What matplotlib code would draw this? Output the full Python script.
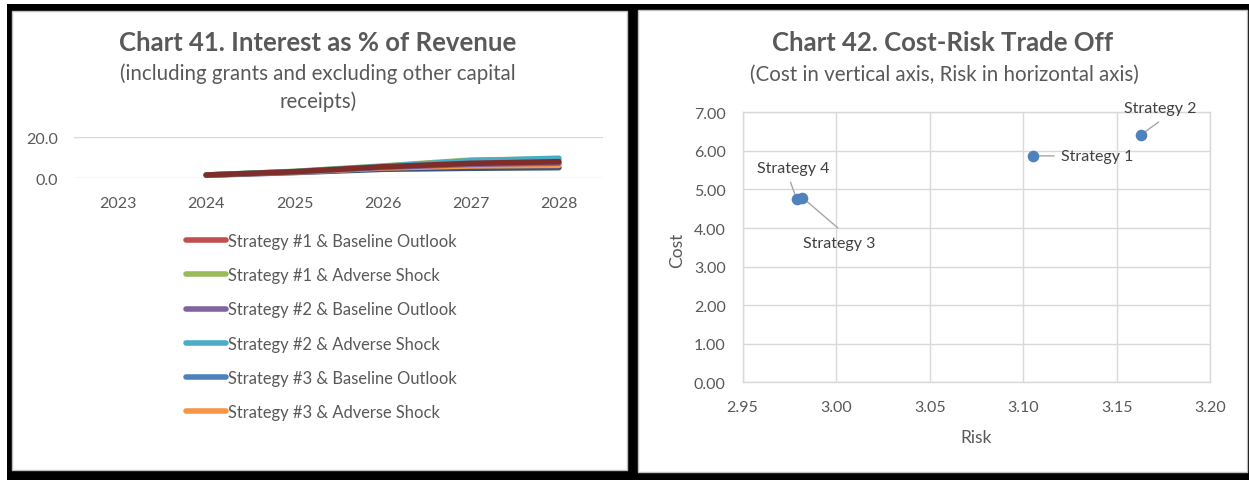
import matplotlib
matplotlib.use("Agg")
import matplotlib.pyplot as plt
from matplotlib.patches import Rectangle
from matplotlib.lines import Line2D

plt.rcParams['font.family'] = ['Lato', 'DejaVu Sans']

# ---- Chart 41 data -------------------------------------------------------
years = ["2023", "2024", "2025", "2026", "2027", "2028"]
series_names = [
    "Strategy #1 & Baseline Outlook",
    "Strategy #1 & Adverse Shock",
    "Strategy #2 & Baseline Outlook",
    "Strategy #2 & Adverse Shock",
    "Strategy #3 & Baseline Outlook",
    "Strategy #3 & Adverse Shock",
]
s1_baseline = [None, 1.6, 3.2, 5.6, 7.3, 8.1]
s1_adverse = [None, 1.6, 3.4, 6.0, 8.9, 9.4]
s2_baseline = [None, 1.6, 3.1, 5.3, 6.8, 7.4]
s2_adverse = [None, 1.6, 3.3, 5.8, 8.6, 9.8]
s3_baseline = [None, 1.5, 2.8, 4.4, 4.9, 5.2]
s3_adverse = [None, 1.6, 3.0, 5.0, 6.0, 6.3]

# ---- Chart 42 data -------------------------------------------------------
strategies = ["Strategy 1", "Strategy 2", "Strategy 3", "Strategy 4"]
risk = [3.105, 3.163, 2.982, 2.979]
cost = [5.87, 6.42, 4.79, 4.74]

W, H = 1249, 481
fig = plt.figure(figsize=(W / 100, H / 100), dpi=100, facecolor="white")


def fx(x):
    return x / W


def fy(y):
    return 1 - y / H


# Black frame and the two white chart panels (behind the axes)
fig.patches.append(Rectangle((fx(7), 0), fx(W - 7), (H - 5) / H,
                             transform=fig.transFigure, facecolor="black",
                             edgecolor="none", zorder=-3))
fig.patches.append(Rectangle((fx(12), fy(471)), fx(627 - 12), (471 - 12) / H,
                             transform=fig.transFigure, facecolor="white",
                             edgecolor="#BFBFBF", lw=1, zorder=-2))
fig.patches.append(Rectangle((fx(638), fy(473)), fx(1247 - 638), (473 - 11) / H,
                             transform=fig.transFigure, facecolor="white",
                             edgecolor="#BFBFBF", lw=1, zorder=-2))

TXT = "#595959"
GRID = "#D9D9D9"
TITLE_SIZE = 18.5
SUB_SIZE = 14.8

# ---- Chart 41 ------------------------------------------------------------
fig.text(fx(318), fy(43), "Chart 41. Interest as % of Revenue", ha="center",
         va="center", fontsize=TITLE_SIZE, fontweight="bold", color=TXT)
fig.text(fx(318), fy(74), "(including grants and excluding other capital",
         ha="center", va="center", fontsize=SUB_SIZE, color=TXT)
fig.text(fx(318), fy(102), "receipts)", ha="center", va="center",
         fontsize=SUB_SIZE, color=TXT)

ax1 = fig.add_axes([fx(74), fy(179.3), fx(603 - 74), (179.3 - 138.3) / H])
ax1.set_facecolor("none")
x_idx = list(range(len(years)))

palette = ["#C0504D", "#9BBB59", "#8064A2", "#4BACC6", "#4F81BD", "#F79646"]
drawn = ["#7E2D2B", "#9BBB59", "#8064A2", "#4BACC6", "#34557F", "#F79646"]
order = [4, 5, 2, 1, 3, 0]
all_series = [s1_baseline, s1_adverse, s2_baseline, s2_adverse,
              s3_baseline, s3_adverse]
for z, i in enumerate(order):
    vals = all_series[i]
    xs = [x for x, v in zip(x_idx, vals) if v is not None]
    ys = [v for v in vals if v is not None]
    ax1.plot(xs, ys, color=drawn[i], lw=4, solid_capstyle="round", zorder=3 + z)

ax1.set_xlim(-0.5, len(years) - 0.5)
ax1.set_ylim(0, 20)
ax1.set_yticks([0, 20])
ax1.set_yticklabels(["0.0", "20.0"])
ax1.set_xticks(x_idx)
ax1.set_xticklabels(years)
for s in ax1.spines.values():
    s.set_visible(False)
ax1.grid(axis="y", color=GRID, lw=1)
ax1.set_axisbelow(True)
ax1.tick_params(length=0, labelsize=11.5, labelcolor=TXT)
ax1.tick_params(axis="y", pad=11.5)
ax1.tick_params(axis="x", pad=13)

handles = [Line2D([], [], color=c, lw=4, solid_capstyle="round") for c in palette]
fig.legend(handles, series_names, loc="upper left",
           bbox_to_anchor=(fx(186), fy(234)), frameon=False, fontsize=11.9,
           labelcolor=TXT, handlelength=2.45, handletextpad=0.1,
           labelspacing=1.1, borderpad=0, borderaxespad=0)

# ---- Chart 42 ------------------------------------------------------------
fig.text(fx(943), fy(43), "Chart 42. Cost-Risk Trade Off", ha="center",
         va="center", fontsize=TITLE_SIZE, fontweight="bold", color=TXT)
fig.text(fx(944), fy(75), "(Cost in vertical axis, Risk in horizontal axis)",
         ha="center", va="center", fontsize=SUB_SIZE, color=TXT)

ax2 = fig.add_axes([fx(742.5), fy(383.3), fx(1210.3 - 742.5), (383.3 - 113.3) / H])
ax2.set_facecolor("none")
ax2.scatter(risk, cost, s=70, color="#4F81BD", zorder=5, linewidths=0)
ax2.set_xlim(2.95, 3.20)
ax2.set_ylim(0, 7)
xt = [2.95, 3.00, 3.05, 3.10, 3.15, 3.20]
ax2.set_xticks(xt)
ax2.set_xticklabels([f"{v:.2f}" for v in xt])
ax2.set_yticks(range(8))
ax2.set_yticklabels([f"{v:.2f}" for v in range(8)])
ax2.grid(True, color=GRID, lw=1)
ax2.set_axisbelow(True)
for s in ax2.spines.values():
    s.set_color(GRID)
    s.set_linewidth(1)
ax2.tick_params(length=0, labelsize=11.5, labelcolor=TXT)
ax2.tick_params(axis="y", pad=12)
ax2.tick_params(axis="x", pad=12.5)
ax2.text(0.5, -0.203, "Risk", transform=ax2.transAxes, ha="center",
         va="center", fontsize=12.5, color=TXT)
ax2.text(-0.14, 0.494, "Cost", transform=ax2.transAxes, ha="center",
         va="center", rotation=90, fontsize=12.5, color=TXT)

# Data labels with leader lines (offsets in pixels from each point)
label_text_offset = {
    "Strategy 1": (28, 0, "left"),
    "Strategy 2": (19.5, 27, "center"),
    "Strategy 3": (36.7, -45.4, "center"),
    "Strategy 4": (-4, 31, "center"),
}
leader_end = {
    "Strategy 1": (21.5, 0),
    "Strategy 2": (17.5, 12.6),
    "Strategy 3": (35.5, -30.4),
    "Strategy 4": (-6.3, 17.3),
}
for name, x, y in zip(strategies, risk, cost):
    dx, dy, ha = label_text_offset[name]
    ax2.annotate(name, xy=(x, y), xytext=(dx, dy), textcoords="offset pixels",
                 ha=ha, va="center", fontsize=11.5, color="#404040", zorder=6)
    ex, ey = leader_end[name]
    ax2.annotate("", xy=(x, y), xytext=(ex, ey), textcoords="offset pixels",
                 arrowprops=dict(arrowstyle="-", color="#A6A6A6", lw=1,
                                 shrinkA=0, shrinkB=4), zorder=4)

fig.savefig("out.png", dpi=100, facecolor=fig.get_facecolor())
